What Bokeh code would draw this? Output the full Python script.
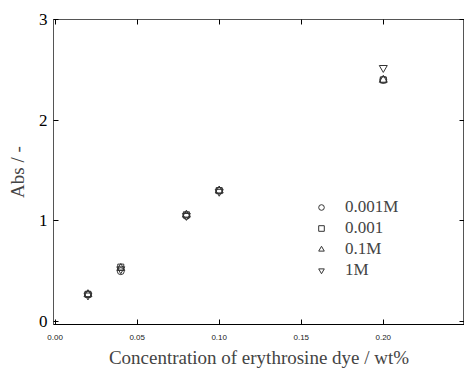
from bokeh.plotting import figure
from bokeh.models import Range1d, LinearAxis, Legend, LegendItem, FixedTicker, CustomJSTickFormatter
from bokeh.embed import file_html
from bokeh.resources import INLINE

conc = [0.02, 0.04, 0.08, 0.10, 0.20]
abs_0001M = [0.27, 0.50, 1.05, 1.30, 2.40]
abs_0001 = [0.27, 0.54, 1.06, 1.30, 2.40]
abs_01M = [0.27, 0.53, 1.06, 1.30, 2.40]
abs_1M = [0.26, 0.52, 1.05, 1.29, 2.52]
series_labels = ["0.001M", "0.001", "0.1M", "1M"]
x_ticks = [0.0, 0.05, 0.10, 0.15, 0.20, 0.25]
y_ticks = [0, 1, 2, 3]

p = figure(frame_width=411, frame_height=305, output_backend="svg", toolbar_location=None,
           x_range=Range1d(-0.001, 0.2495), y_range=Range1d(-0.03, 3.0),
           min_border_left=53, min_border_right=0, min_border_top=19, min_border_bottom=0,
           x_axis_label="Concentration of erythrosine dye / wt%", y_axis_label="Abs / -")
p.grid.visible = False
p.outline_line_color = "#555555"
p.outline_line_width = 1

serif = "Liberation Serif"
for ax in p.xaxis:
    ax.ticker = FixedTicker(ticks=x_ticks)
    ax.formatter = CustomJSTickFormatter(code="return tick.toFixed(2);")
    ax.major_tick_in = 5
    ax.major_tick_out = 0
    ax.minor_tick_line_color = None
    ax.major_label_text_font = "Liberation Sans"
    ax.major_label_text_font_size = "8px"
    ax.major_label_text_color = "#222222"
    ax.axis_label_text_font = serif
    ax.axis_label_text_font_size = "19px"
    ax.axis_label_text_font_style = "normal"
    ax.axis_label_standoff = 4
    ax.axis_line_color = "black"
    ax.major_label_standoff = 10
for ax in p.yaxis:
    ax.ticker = FixedTicker(ticks=y_ticks)
    ax.major_tick_in = 5
    ax.major_tick_out = 0
    ax.minor_tick_line_color = None
    ax.major_label_text_font = serif
    ax.major_label_text_font_size = "17px"
    ax.major_label_text_color = "black"
    ax.axis_label_text_font = serif
    ax.axis_label_text_font_size = "19px"
    ax.axis_label_text_font_style = "normal"
    ax.axis_label_standoff = 8
    ax.axis_line_color = "#555555"
    ax.major_label_standoff = 6

top = LinearAxis(ticker=FixedTicker(ticks=x_ticks), major_tick_in=5, major_tick_out=0,
                 minor_tick_line_color=None, major_label_text_color=None,
                 formatter=CustomJSTickFormatter(code="return '';"),
                 major_label_standoff=0, axis_line_color=None)
right = LinearAxis(ticker=FixedTicker(ticks=y_ticks), major_tick_in=5, major_tick_out=0,
                   minor_tick_line_color=None, major_label_text_color=None,
                   formatter=CustomJSTickFormatter(code="return '';"),
                   major_label_standoff=0, axis_line_color=None)
p.add_layout(top, "above")
p.add_layout(right, "right")

col = "#333333"
r1 = p.scatter(conc, abs_0001M, marker="circle", size=7, fill_color=None, line_color=col)
r2 = p.scatter(conc, abs_0001, marker="square", size=6, fill_color=None, line_color=col)
r3 = p.scatter(conc, abs_01M, marker="triangle", size=8, fill_color=None, line_color=col)
r4 = p.scatter(conc, abs_1M, marker="inverted_triangle", size=8, fill_color=None, line_color=col)

legend = Legend(items=[LegendItem(label=lbl, renderers=[r]) for lbl, r in zip(series_labels, [r1, r2, r3, r4])],
                location=(261, 44), background_fill_alpha=0, border_line_color=None,
                label_text_font=serif, label_text_font_size="17px", glyph_width=14, glyph_height=14,
                label_standoff=17, spacing=1, padding=0, margin=0, label_height=14)
p.add_layout(legend, "center")

open("out.html", "w").write(file_html(p, INLINE))
